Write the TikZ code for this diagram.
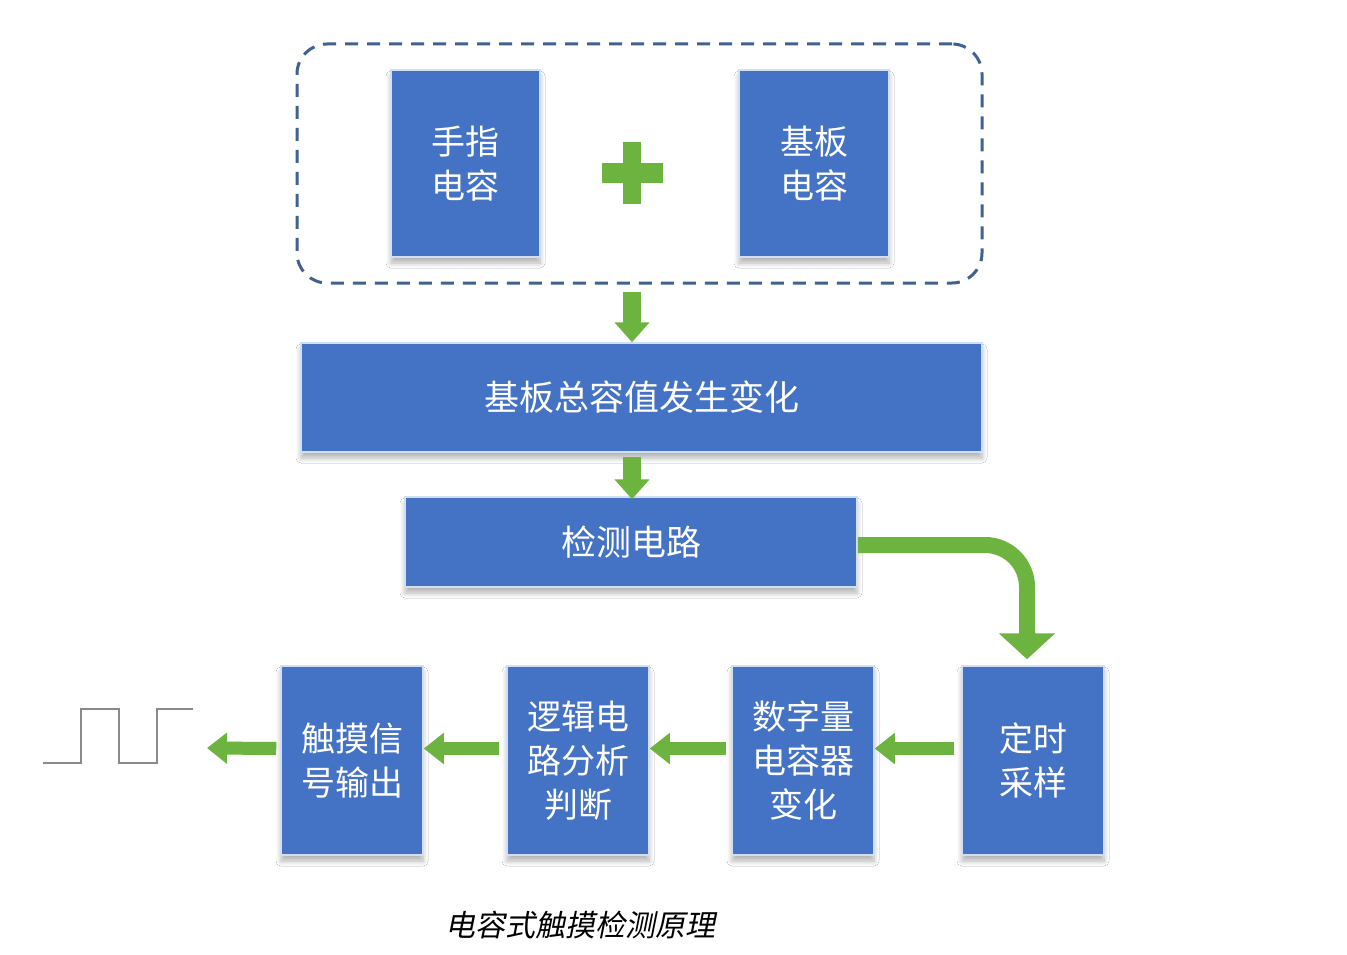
\documentclass[tikz,border=0pt]{standalone}
\usepackage{fontspec}
\newfontfamily\cjk{Noto Sans CJK SC}
\newfontfamily\cjkit[FakeSlant=0.2]{Noto Sans CJK SC}
\usetikzlibrary{arrows.meta,shadows,shadows.blur}
\definecolor{boxblue}{HTML}{4472C4}
\definecolor{arrgreen}{HTML}{6CB33F}
\definecolor{dashblue}{HTML}{41628F}
\definecolor{boxedge}{HTML}{D2DEF2}
\definecolor{wavegray}{HTML}{8A8A8A}
\begin{document}
\begin{tikzpicture}[x=1pt,y=-1pt,
  blk/.style={draw=boxedge, line width=1.5pt, fill=boxblue, text=white,
    font=\cjk\fontsize{34}{44}\selectfont, align=center, inner sep=0pt,
    blur shadow={shadow xshift=0pt, shadow yshift=-6pt, shadow blur radius=5pt,
      shadow opacity=30, shadow blur steps=8}},
  tallblk/.style={blk, minimum width=142pt, minimum height=189pt},
  varrow/.style={draw=arrgreen, line width=18pt, -{Triangle[width=34pt,length=20pt]}},
  harrow/.style={draw=arrgreen, line width=13pt, -{Triangle[width=30pt,length=20pt]}},
  barrow/.style={draw=arrgreen, line width=16pt, rounded corners=42pt, -{Triangle[width=55pt,length=26pt]}},
  plusbar/.style={fill=arrgreen, inner sep=0pt},
]
\fill[white] (0,0) rectangle (1347,955);
\useasboundingbox (0,0) rectangle (1347,955);

% dashed group
\node[draw=dashblue, dash pattern=on 13pt off 9pt, line width=3pt, rounded corners=30pt,
      minimum width=685pt, minimum height=239pt, inner sep=0pt] (grp) at (639.5,163.5) {};

% top boxes
\node[blk, minimum width=149pt, minimum height=187pt] (fc) at (465.5,163.5) {手指\\电容};
\node[blk, minimum width=150pt, minimum height=187pt] (bc) at (814,163.5) {基板\\电容};
\node[plusbar, minimum width=18pt, minimum height=61pt] (plus) at (632,173) {};
\node[plusbar, minimum width=61pt, minimum height=20pt] (plush) at (plus) {};

% middle boxes
\node[blk, font=\cjk\fontsize{35}{44}\selectfont, minimum width=681pt, minimum height=109pt] (total) at (641.5,397.5) {基板总容值发生变化};
\node[blk, font=\cjk\fontsize{35}{44}\selectfont, minimum width=452pt, minimum height=90pt] (jc) at (631,542) {检测电路};

% bottom boxes
\node[tallblk] (ds) at (1033,760.5) {定时\\采样};
\node[tallblk] (sz) at (803,760.5) {数字量\\电容器\\变化};
\node[tallblk] (lj) at (578,760.5) {逻辑电\\路分析\\判断};
\node[tallblk] (cm) at (352,760.5) {触摸信\\号输出};

% arrows
\draw[varrow, shorten <=7pt] (grp.south -| plus) -- (total.north -| plus);
\draw[varrow, shorten <=4pt, shorten >=-3pt] (total.south -| plus) -- (jc.north -| plus);
\draw[barrow] ([yshift=-3pt]jc.east) -| ([xshift=-6pt, yshift=6pt]ds.north);
\draw[harrow, shorten <=7pt] ([yshift=12pt]ds.west) -- ([yshift=12pt]sz.east);
\draw[harrow, shorten <=5pt] ([yshift=12pt]sz.west) -- ([yshift=12pt]lj.east);
\draw[harrow, shorten <=7pt] ([yshift=12pt]lj.west) -- ([yshift=12pt]cm.east);
\coordinate (out) at (207,748);
\draw[harrow, shorten <=4pt] ([yshift=12pt]cm.west) -- (out);

% square wave
\draw[wavegray, line width=1.5pt] (43,763) -- (81,763) -- (81,709) -- (119,709)
  -- (119,763) -- (157,763) -- (157,709) -- (193,709);

% caption
\node[font=\cjkit\fontsize{30}{36}\selectfont, text=black] (cap) at (580,925) {电容式触摸检测原理};
\end{tikzpicture}
\end{document}
